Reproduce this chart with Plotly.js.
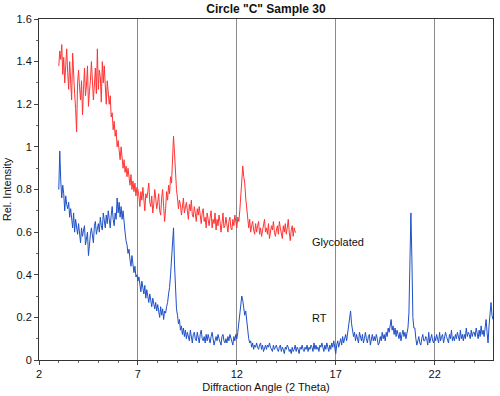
<!DOCTYPE html>
<html>
<head>
<meta charset="utf-8">
<script src="https://cdn.plot.ly/plotly-3.0.1.min.js"></script>
<style>
  html, body { margin: 0; padding: 0; background: #fff; }
  #chart { width: 500px; height: 396px; }
</style>
</head>
<body>
<div id="chart"></div>
<script>
// Sampling grid (2-theta, degrees)
const angleStep = 0.05;
const glycolatedStart = 3.0;
const rtStart = 3.0;

// Glycolated series (red), 3.00 .. 15.00 step 0.05
const glycolated = [
  1.38, 1.45, 1.41, 1.48, 1.34, 1.42, 1.30, 1.39, 1.46, 1.35,
  1.27, 1.40, 1.33, 1.22, 1.44, 1.30, 1.25, 1.18, 1.07, 1.30,
  1.36, 1.28, 1.22, 1.31, 1.15, 1.27, 1.37, 1.24, 1.29, 1.38,
  1.19, 1.26, 1.31, 1.40, 1.33, 1.22, 1.29, 1.37, 1.25, 1.46,
  1.27, 1.36, 1.33, 1.21, 1.40, 1.30, 1.38, 1.24, 1.20, 1.31,
  1.26, 1.20, 1.24, 1.14, 1.16, 1.08, 1.12, 1.05, 1.08, 1.00,
  1.03, 0.99, 0.94, 1.00, 0.95, 0.90, 0.94, 0.88, 0.91, 0.86,
  0.90, 0.85, 0.82, 0.87, 0.80, 0.84, 0.79, 0.83, 0.77, 0.81,
  0.80, 0.77, 0.72, 0.79, 0.75, 0.81, 0.74, 0.70, 0.78, 0.76,
  0.79, 0.83, 0.74, 0.72, 0.77, 0.69, 0.73, 0.80, 0.76, 0.71,
  0.74, 0.78, 0.70, 0.68, 0.76, 0.80, 0.72, 0.65, 0.71, 0.79,
  0.75, 0.82, 0.78, 0.86, 0.83, 0.94, 1.05, 0.97, 0.86, 0.80,
  0.76, 0.71, 0.75, 0.73, 0.68, 0.72, 0.76, 0.69, 0.71, 0.74,
  0.70, 0.66, 0.73, 0.70, 0.75, 0.68, 0.67, 0.72, 0.69, 0.65,
  0.71, 0.68, 0.72, 0.66, 0.64, 0.69, 0.71, 0.65, 0.67, 0.62,
  0.69, 0.66, 0.63, 0.67, 0.70, 0.62, 0.66, 0.64, 0.69, 0.61,
  0.66, 0.63, 0.68, 0.65, 0.60, 0.64, 0.69, 0.62, 0.63, 0.67,
  0.64, 0.60, 0.65, 0.67, 0.62, 0.61, 0.66, 0.63, 0.68, 0.64,
  0.62, 0.67, 0.65, 0.70, 0.76, 0.84, 0.91, 0.86, 0.83, 0.76,
  0.70, 0.65, 0.62, 0.66, 0.60, 0.63, 0.65, 0.61, 0.59, 0.64,
  0.60, 0.63, 0.65, 0.59, 0.62, 0.58, 0.61, 0.64, 0.66, 0.60,
  0.62, 0.59, 0.64, 0.57, 0.60, 0.63, 0.61, 0.65, 0.60, 0.58,
  0.61, 0.63, 0.59, 0.65, 0.62, 0.58, 0.57, 0.63, 0.60, 0.64,
  0.59, 0.62, 0.66, 0.60, 0.56, 0.61, 0.63, 0.58, 0.62, 0.60,
  0.60
];

// RT series (blue), 3.00 .. 24.95 step 0.05
const rt = [
  0.80, 0.98, 0.84, 0.76, 0.82, 0.78, 0.70, 0.77, 0.73, 0.71,
  0.74, 0.67, 0.71, 0.64, 0.62, 0.69, 0.60, 0.66, 0.62, 0.59,
  0.64, 0.59, 0.55, 0.62, 0.58, 0.61, 0.63, 0.54, 0.57, 0.60,
  0.49, 0.56, 0.59, 0.62, 0.57, 0.55, 0.63, 0.65, 0.59, 0.61,
  0.64, 0.60, 0.67, 0.63, 0.61, 0.69, 0.66, 0.62, 0.68, 0.64,
  0.70, 0.65, 0.62, 0.68, 0.72, 0.66, 0.63, 0.69, 0.66, 0.76,
  0.69, 0.74, 0.67, 0.72, 0.66, 0.70, 0.63, 0.60, 0.56, 0.54,
  0.50, 0.52, 0.47, 0.44, 0.49, 0.43, 0.41, 0.44, 0.39, 0.40,
  0.37, 0.39, 0.34, 0.32, 0.37, 0.33, 0.31, 0.35, 0.29, 0.33,
  0.30, 0.27, 0.31, 0.28, 0.25, 0.29, 0.26, 0.24, 0.27, 0.23,
  0.26, 0.22, 0.20, 0.25, 0.21, 0.24, 0.19, 0.23, 0.22, 0.25,
  0.27, 0.31, 0.34, 0.40, 0.46, 0.55, 0.62, 0.45, 0.32, 0.24,
  0.21, 0.17, 0.19, 0.14, 0.16, 0.12, 0.15, 0.11, 0.14, 0.10,
  0.13, 0.10, 0.09, 0.14, 0.11, 0.08, 0.12, 0.13, 0.10, 0.09,
  0.13, 0.11, 0.08, 0.12, 0.14, 0.10, 0.09, 0.11, 0.08, 0.12,
  0.09, 0.12, 0.10, 0.08, 0.11, 0.13, 0.10, 0.07, 0.09, 0.11,
  0.09, 0.12, 0.10, 0.08, 0.07, 0.11, 0.12, 0.09, 0.08, 0.10,
  0.08, 0.11, 0.09, 0.12, 0.10, 0.08, 0.07, 0.11, 0.09, 0.12,
  0.10, 0.13, 0.17, 0.22, 0.27, 0.30, 0.28, 0.24, 0.21, 0.23,
  0.18, 0.13, 0.10, 0.08, 0.09, 0.06, 0.08, 0.05, 0.07, 0.06,
  0.08, 0.06, 0.05, 0.07, 0.08, 0.05, 0.07, 0.04, 0.06, 0.07,
  0.05, 0.07, 0.06, 0.08, 0.06, 0.05, 0.04, 0.07, 0.05, 0.06,
  0.07, 0.05, 0.04, 0.06, 0.07, 0.04, 0.06, 0.05, 0.03, 0.06,
  0.05, 0.07, 0.06, 0.04, 0.05, 0.03, 0.06, 0.04, 0.05, 0.07,
  0.04, 0.06, 0.05, 0.03, 0.06, 0.05, 0.07, 0.05, 0.04, 0.06,
  0.05, 0.07, 0.04, 0.06, 0.05, 0.07, 0.06, 0.04, 0.08, 0.05,
  0.07, 0.05, 0.06, 0.04, 0.07, 0.06, 0.08, 0.06, 0.04, 0.07,
  0.05, 0.08, 0.06, 0.04, 0.07, 0.05, 0.08, 0.06, 0.09, 0.05,
  0.03, 0.07, 0.09, 0.06, 0.08, 0.10, 0.07, 0.11, 0.08, 0.10,
  0.12, 0.09, 0.13, 0.15, 0.18, 0.23, 0.17, 0.14, 0.11, 0.13,
  0.09, 0.12, 0.10, 0.08, 0.13, 0.11, 0.09, 0.12, 0.08, 0.10,
  0.13, 0.10, 0.08, 0.11, 0.12, 0.07, 0.10, 0.12, 0.09, 0.11,
  0.09, 0.12, 0.10, 0.07, 0.08, 0.11, 0.09, 0.13, 0.10, 0.12,
  0.09, 0.13, 0.11, 0.15, 0.13, 0.17, 0.19, 0.14, 0.16, 0.12,
  0.15, 0.11, 0.14, 0.12, 0.10, 0.13, 0.09, 0.12, 0.14, 0.11,
  0.13, 0.10, 0.12, 0.15, 0.22, 0.45, 0.69, 0.48, 0.20, 0.15,
  0.15, 0.10, 0.07, 0.09, 0.11, 0.08, 0.07, 0.10, 0.12, 0.09,
  0.09, 0.11, 0.10, 0.07, 0.13, 0.08, 0.11, 0.12, 0.09, 0.08,
  0.11, 0.09, 0.12, 0.10, 0.08, 0.13, 0.09, 0.11, 0.12, 0.08,
  0.10, 0.13, 0.11, 0.09, 0.08, 0.12, 0.10, 0.14, 0.09, 0.11,
  0.09, 0.12, 0.10, 0.13, 0.11, 0.09, 0.14, 0.10, 0.12, 0.09,
  0.12, 0.10, 0.15, 0.11, 0.13, 0.12, 0.10, 0.14, 0.11, 0.13,
  0.13, 0.11, 0.15, 0.12, 0.10, 0.14, 0.11, 0.16, 0.12, 0.14,
  0.11, 0.15, 0.19, 0.13, 0.08, 0.16, 0.22, 0.27, 0.21, 0.19
];

const xTickVals = [2, 7, 12, 17, 22];
const yTickVals = [0, 0.2, 0.4, 0.6, 0.8, 1, 1.2, 1.4, 1.6];
const seriesLabels = ["Glycolated", "RT"];
const labelPos = [[15.7, 0.555], [15.7, 0.197]];

function grid(start, n) {
  const out = [];
  for (let i = 0; i < n; i++) out.push(+(start + i * angleStep).toFixed(2));
  return out;
}

const font = "Liberation Sans, Arial, sans-serif";

const traces = [
  {
    x: grid(glycolatedStart, glycolated.length), y: glycolated,
    type: "scatter", mode: "lines", name: seriesLabels[0],
    line: { color: "#ff3333", width: 1 }
  },
  {
    x: grid(rtStart, rt.length), y: rt,
    type: "scatter", mode: "lines", name: seriesLabels[1],
    line: { color: "#1f50c8", width: 1 }
  }
];

const layout = {
  width: 500, height: 396,
  margin: { l: 39, r: 7, t: 19, b: 36, pad: 0 },
  paper_bgcolor: "#ffffff", plot_bgcolor: "#ffffff",
  showlegend: false,
  font: { family: font, size: 11, color: "#111" },
  title: {
    text: 'Circle "C" Sample 30',
    font: { family: font, size: 12, color: "#111", weight: "bold" },
    x: 0.532, xanchor: "center", xref: "container",
    y: 0.977, yanchor: "middle", yref: "container"
  },
  xaxis: {
    range: [2, 24.95],
    tickvals: xTickVals,
    ticks: "outside", ticklen: 4, tickcolor: "#444", tickwidth: 1,
    showgrid: true, gridcolor: "#8a8a8a", gridwidth: 1,
    showline: true, mirror: true, linecolor: "#333", linewidth: 1,
    zeroline: false,
    tickfont: { family: font, size: 11, color: "#111" },
    minor: { dtick: 1, tick0: 2, ticks: "outside", ticklen: 2, tickcolor: "#666", showgrid: false },
    title: { text: "Diffraction Angle (2 Theta)", font: { family: font, size: 11, color: "#111" }, standoff: 4 }
  },
  yaxis: {
    range: [0, 1.6],
    tickvals: yTickVals,
    ticks: "outside", ticklen: 4, tickcolor: "#444", tickwidth: 1,
    showgrid: false,
    showline: true, mirror: true, linecolor: "#333", linewidth: 1,
    zeroline: false,
    tickfont: { family: font, size: 11, color: "#111" },
    minor: { dtick: 0.1, tick0: 0, ticks: "outside", ticklen: 2, tickcolor: "#666", showgrid: false },
    title: { text: "Rel. Intensity", font: { family: font, size: 11, color: "#111" }, standoff: 2 }
  },
  annotations: seriesLabels.map((t, i) => ({
    x: labelPos[i][0], y: labelPos[i][1], xref: "x", yref: "y",
    text: t, showarrow: false, xanchor: "left", yanchor: "middle",
    font: { family: font, size: 11, color: "#111" }
  }))
};

Plotly.newPlot("chart", traces, layout, { displayModeBar: false, staticPlot: true });
</script>
</body>
</html>
